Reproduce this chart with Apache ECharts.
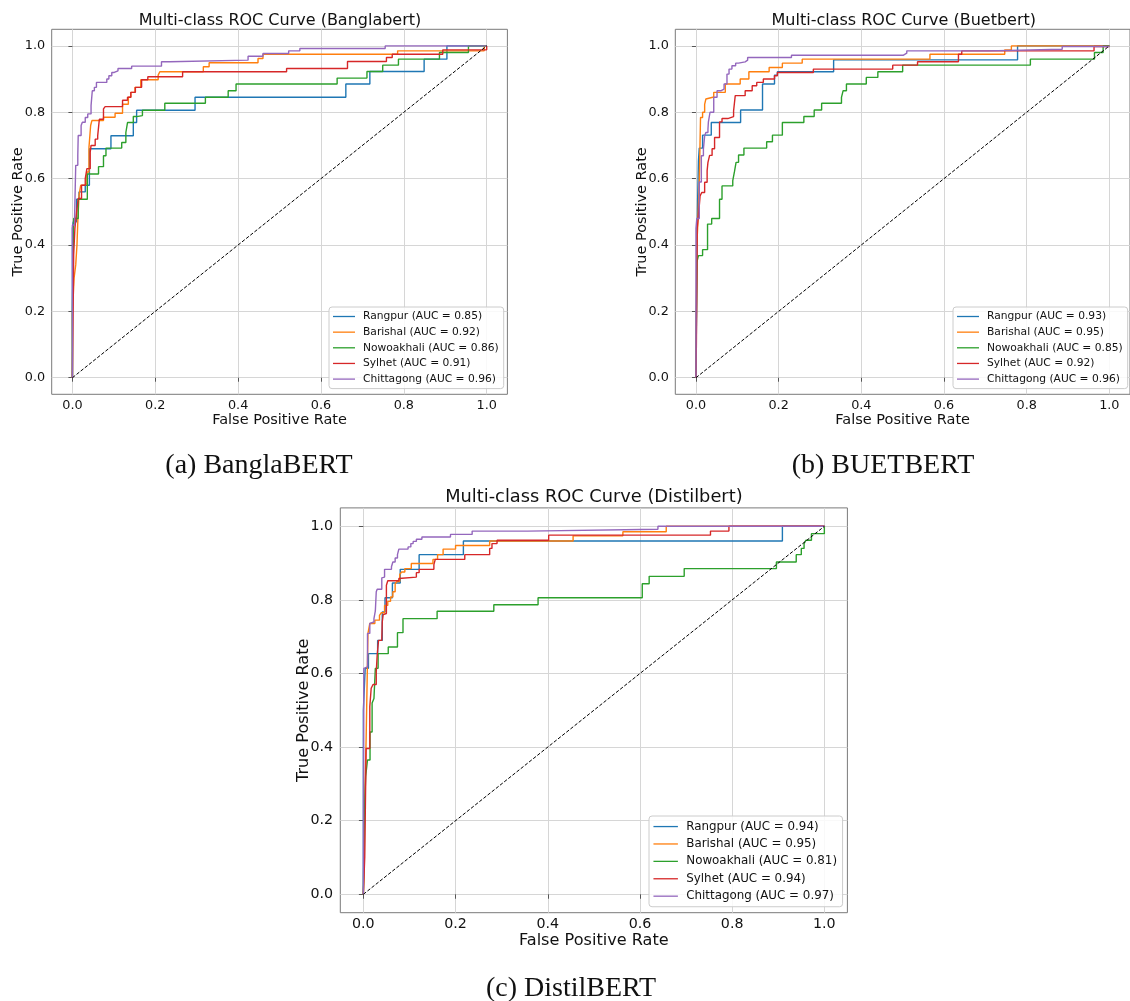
<!DOCTYPE html>
<html>
<head>
<meta charset="utf-8">
<script src="https://cdn.jsdelivr.net/npm/echarts@6/dist/echarts.min.js"></script>
<style>
html,body{margin:0;padding:0;background:#ffffff;}
#chart{width:1130px;height:1001px;}
</style>
</head>
<body>
<div id="chart"></div>
<script>
// ---------- data ----------
const classNames = ['Rangpur', 'Barishal', 'Nowoakhali', 'Sylhet', 'Chittagong'];
const axisTicks = [0, 0.2, 0.4, 0.6, 0.8, 1.0];
const chanceLine = [[0, 0], [1, 1]];

const panelTitles = ['Multi-class ROC Curve (Banglabert)', 'Multi-class ROC Curve (Buetbert)', 'Multi-class ROC Curve (Distilbert)'];
const panelCaptions = ['(a) BanglaBERT', '(b) BUETBERT', '(c) DistilBERT'];

const aucBangla = [0.85, 0.92, 0.86, 0.91, 0.96];
const aucBuet = [0.93, 0.95, 0.85, 0.92, 0.96];
const aucDistil = [0.94, 0.95, 0.81, 0.94, 0.97];

// ROC points: [fpr, tpr reached at that fpr]
const banglaRangpur = [[0,0],[0,0.45],[0.002,0.47],[0.010,0.538],[0.016,0.56],[0.031,0.58],[0.041,0.69],[0.093,0.729],[0.147,0.769],[0.155,0.806],[0.296,0.845],[0.66,0.885],[0.718,0.923],[0.849,0.96],[0.904,1.0],[1,1]];
const banglaBarishal = [[0,0],[0,0.19],[0.004,0.30],[0.008,0.34],[0.011,0.40],[0.013,0.47],[0.016,0.55],[0.02,0.58],[0.03,0.585],[0.035,0.62],[0.04,0.695],[0.044,0.76],[0.047,0.775],[0.075,0.785],[0.103,0.797],[0.121,0.824],[0.135,0.845],[0.141,0.86],[0.151,0.875],[0.165,0.898],[0.207,0.912],[0.211,0.922],[0.316,0.937],[0.33,0.949],[0.448,0.962],[0.46,0.975],[0.785,0.985],[0.994,1.0],[1,1]];
const banglaNowoakhali = [[0,0],[0,0.21],[0.003,0.48],[0.014,0.538],[0.036,0.614],[0.063,0.636],[0.075,0.669],[0.081,0.692],[0.119,0.709],[0.129,0.739],[0.133,0.769],[0.147,0.787],[0.155,0.79],[0.169,0.806],[0.223,0.827],[0.321,0.845],[0.376,0.865],[0.395,0.885],[0.639,0.903],[0.711,0.923],[0.749,0.942],[0.787,0.96],[0.886,0.98],[0.956,1.0],[1,1]];
const banglaSylhet = [[0,0],[0.003,0.37],[0.006,0.45],[0.01,0.5],[0.014,0.54],[0.022,0.58],[0.031,0.6],[0.035,0.63],[0.043,0.68],[0.045,0.7],[0.055,0.719],[0.061,0.729],[0.065,0.779],[0.075,0.81],[0.079,0.817],[0.121,0.836],[0.133,0.845],[0.141,0.86],[0.152,0.875],[0.167,0.898],[0.182,0.907],[0.266,0.922],[0.517,0.932],[0.664,0.953],[0.758,0.965],[0.772,0.975],[0.894,0.988],[1,1]];
const banglaChittagong = [[0,0],[0,0.46],[0.005,0.47],[0.008,0.64],[0.013,0.67],[0.014,0.73],[0.021,0.76],[0.024,0.77],[0.031,0.784],[0.037,0.795],[0.045,0.82],[0.048,0.865],[0.053,0.875],[0.058,0.89],[0.083,0.9],[0.088,0.91],[0.095,0.92],[0.101,0.925],[0.11,0.932],[0.143,0.939],[0.215,0.952],[0.235,0.957],[0.424,0.969],[0.46,0.977],[0.522,0.985],[0.549,0.992],[0.755,1.0],[1,1]];

const buetRangpur = [[0,0],[0.003,0.44],[0.004,0.535],[0.006,0.654],[0.008,0.692],[0.016,0.731],[0.037,0.769],[0.108,0.807],[0.161,0.885],[0.19,0.912],[0.197,0.922],[0.333,0.958],[0.778,1.0],[1,1]];
const buetBarishal = [[0,0],[0.002,0.4],[0.004,0.45],[0.008,0.59],[0.011,0.784],[0.016,0.8],[0.021,0.824],[0.024,0.84],[0.026,0.846],[0.043,0.86],[0.071,0.885],[0.107,0.9],[0.128,0.922],[0.177,0.935],[0.209,0.948],[0.257,0.96],[0.566,0.975],[0.747,0.988],[0.763,1.0],[1,1]];
const buetNowoakhali = [[0,0],[0.002,0.348],[0.006,0.368],[0.016,0.386],[0.028,0.463],[0.038,0.48],[0.057,0.538],[0.063,0.578],[0.089,0.594],[0.093,0.62],[0.097,0.649],[0.103,0.671],[0.116,0.692],[0.171,0.711],[0.185,0.731],[0.209,0.769],[0.261,0.787],[0.286,0.807],[0.304,0.827],[0.352,0.845],[0.356,0.865],[0.364,0.885],[0.412,0.905],[0.44,0.922],[0.5,0.942],[0.809,0.96],[0.964,0.98],[0.985,1.0],[1,1]];
const buetSylhet = [[0,0],[0.001,0.1],[0.003,0.45],[0.006,0.488],[0.01,0.548],[0.014,0.558],[0.021,0.589],[0.027,0.624],[0.029,0.649],[0.033,0.67],[0.039,0.69],[0.045,0.724],[0.057,0.771],[0.063,0.781],[0.077,0.787],[0.091,0.804],[0.093,0.827],[0.095,0.85],[0.119,0.865],[0.136,0.88],[0.147,0.89],[0.163,0.9],[0.19,0.91],[0.197,0.92],[0.284,0.93],[0.476,0.942],[0.536,0.952],[0.635,0.975],[0.643,0.985],[0.963,0.998],[1,1]];
const buetChittagong = [[0,0],[0,0.45],[0.002,0.48],[0.008,0.59],[0.013,0.669],[0.018,0.689],[0.021,0.729],[0.024,0.739],[0.029,0.749],[0.03,0.77],[0.034,0.8],[0.043,0.845],[0.051,0.865],[0.061,0.87],[0.068,0.885],[0.075,0.915],[0.08,0.93],[0.087,0.94],[0.096,0.948],[0.103,0.952],[0.119,0.957],[0.125,0.965],[0.231,0.972],[0.502,0.978],[0.51,0.985],[0.705,0.99],[0.886,0.998],[1,1]];

const distilRangpur = [[0,0],[0,0.5],[0.004,0.614],[0.011,0.654],[0.031,0.69],[0.041,0.767],[0.047,0.806],[0.063,0.846],[0.08,0.883],[0.121,0.923],[0.217,0.96],[0.909,1.0],[1,1]];
const distilBarishal = [[0,0],[0.002,0.07],[0.003,0.26],[0.006,0.42],[0.01,0.709],[0.014,0.736],[0.025,0.745],[0.035,0.758],[0.039,0.765],[0.046,0.785],[0.053,0.796],[0.059,0.808],[0.064,0.822],[0.069,0.844],[0.073,0.85],[0.079,0.869],[0.083,0.876],[0.09,0.885],[0.104,0.899],[0.151,0.91],[0.161,0.923],[0.173,0.938],[0.2,0.948],[0.274,0.96],[0.455,0.974],[0.563,0.985],[0.657,1.0],[1,1]];
const distilNowoakhali = [[0,0],[0.002,0.21],[0.005,0.32],[0.009,0.365],[0.0145,0.441],[0.019,0.52],[0.023,0.532],[0.026,0.614],[0.032,0.654],[0.054,0.672],[0.074,0.711],[0.086,0.749],[0.16,0.769],[0.283,0.787],[0.379,0.806],[0.605,0.844],[0.62,0.864],[0.696,0.885],[0.896,0.903],[0.939,0.923],[0.95,0.94],[0.956,0.953],[0.96,0.962],[0.972,0.98],[1.0,1.0]];
const distilSylhet = [[0,0],[0.003,0.1],[0.006,0.396],[0.014,0.51],[0.017,0.56],[0.021,0.57],[0.028,0.605],[0.03,0.65],[0.033,0.69],[0.04,0.695],[0.041,0.74],[0.043,0.76],[0.046,0.763],[0.05,0.84],[0.053,0.852],[0.077,0.858],[0.079,0.862],[0.115,0.874],[0.121,0.883],[0.153,0.896],[0.156,0.91],[0.22,0.923],[0.274,0.94],[0.279,0.953],[0.29,0.962],[0.402,0.976],[0.753,0.987],[0.793,1.0],[1,1]];
const distilChittagong = [[0,0],[0.001,0.614],[0.004,0.618],[0.009,0.709],[0.014,0.736],[0.017,0.74],[0.023,0.749],[0.026,0.77],[0.028,0.822],[0.03,0.829],[0.04,0.86],[0.043,0.862],[0.046,0.883],[0.061,0.89],[0.064,0.903],[0.069,0.914],[0.074,0.923],[0.077,0.938],[0.097,0.944],[0.103,0.953],[0.108,0.959],[0.115,0.965],[0.127,0.971],[0.189,0.978],[0.236,0.987],[0.356,0.992],[0.639,1.0],[1,1]];

const panelCurves = [
  [banglaRangpur, banglaBarishal, banglaNowoakhali, banglaSylhet, banglaChittagong],
  [buetRangpur, buetBarishal, buetNowoakhali, buetSylhet, buetChittagong],
  [distilRangpur, distilBarishal, distilNowoakhali, distilSylhet, distilChittagong]
];
const panelAuc = [aucBangla, aucBuet, aucDistil];

// ---------- styles / layout ----------
const classColors = ['#1f77b4', '#ff7f0e', '#2ca02c', '#d62728', '#9467bd'];
const FONT = 'DejaVu Sans, sans-serif';
const layouts = [
  { grid: {left: 51.7, top: 29.3, width: 455.7, height: 365}, s: 1,
    title: {x: 280, y: 21}, caption: {x: 259, y: 465.5},
    legend: {left: 329, top: 307} },
  { grid: {left: 675.3, top: 29.3, width: 457, height: 365}, s: 1,
    title: {x: 903.8, y: 21}, caption: {x: 883, y: 465.5},
    legend: {left: 953, top: 307} },
  { grid: {left: 340.3, top: 507.9, width: 507.1, height: 404.8}, s: 1.112,
    title: {x: 593.9, y: 497.5}, caption: {x: 571, y: 988.5},
    legend: {left: 649, top: 816} }
];

const grids = [], xAxes = [], yAxes = [], series = [], legends = [], graphics = [];
layouts.forEach((L, p) => {
  const s = L.s;
  grids.push(Object.assign({show: true, borderColor: '#7a7a7a', borderWidth: 1, backgroundColor: '#fff', containLabel: false}, L.grid));
  const common = {
    gridIndex: p, type: 'value', min: -0.05, max: 1.05,
    axisLine: {show: false},
    axisTick: {show: true, inside: false, length: 4 * s, customValues: axisTicks, lineStyle: {color: '#555', width: 1}},
    axisLabel: {customValues: axisTicks, formatter: v => v.toFixed(1), color: '#111', fontFamily: FONT, fontSize: 12.8 * s},
    splitLine: {show: true, lineStyle: {color: '#d6d6d6', width: 1}},
    nameLocation: 'middle',
    nameTextStyle: {fontFamily: FONT, fontSize: 14.5 * s, color: '#111'}
  };
  xAxes.push(Object.assign({}, common, {
    name: 'False Positive Rate', nameGap: 17 * s,
    axisLabel: Object.assign({}, common.axisLabel, {margin: 4.5 * s})
  }));
  yAxes.push(Object.assign({}, common, {
    name: 'True Positive Rate', nameGap: 26 * s, nameMoveOverlap: false,
    axisLabel: Object.assign({}, common.axisLabel, {margin: 6.5 * s})
  }));
  const names = [];
  classNames.forEach((cn, i) => {
    const nm = cn + ' (AUC = ' + panelAuc[p][i].toFixed(2) + ')';
    names.push(nm);
    series.push({
      name: nm, type: 'line', xAxisIndex: p, yAxisIndex: p,
      data: panelCurves[p][i], step: 'end', symbol: 'none', showSymbol: false,
      lineStyle: {color: classColors[i], width: 1.4}, itemStyle: {color: classColors[i]},
      z: 2 + i, silent: true
    });
  });
  series.push({
    name: 'chance', type: 'line', xAxisIndex: p, yAxisIndex: p, data: chanceLine,
    symbol: 'none', lineStyle: {color: '#000', width: 1, type: [3.5, 1.8]}, z: 10, silent: true
  });
  legends.push({
    data: names, orient: 'vertical', left: L.legend.left, top: L.legend.top,
    icon: 'rect', itemWidth: 22 * s, itemHeight: 1.3, itemGap: 4.65 * s,
    padding: [4 * s, 5 * s, 4 * s, 4 * s], selectedMode: false,
    backgroundColor: 'rgba(255,255,255,0.85)', borderColor: '#cccccc', borderWidth: 1, borderRadius: 3,
    textStyle: {fontFamily: FONT, fontSize: 10.7 * s, color: '#111', padding: [0, 0, 0, 3 * s], lineHeight: 11 * s}
  });
  graphics.push({
    type: 'text', x: L.title.x, y: L.title.y, z: 100,
    style: {text: panelTitles[p], font: (16 * s).toFixed(1) + 'px ' + FONT, fill: '#111', textAlign: 'center', textVerticalAlign: 'middle'}
  });
  graphics.push({
    type: 'text', x: L.caption.x, y: L.caption.y, z: 100,
    style: {text: panelCaptions[p], font: '28px "Liberation Serif", serif', fill: '#111', textAlign: 'center', textVerticalAlign: 'middle'}
  });
});

const chart = echarts.init(document.getElementById('chart'), null, {renderer: 'canvas'});
chart.setOption({
  animation: false,
  backgroundColor: '#ffffff',
  grid: grids, xAxis: xAxes, yAxis: yAxes,
  legend: legends, series: series, graphic: graphics
});
</script>
</body>
</html>
